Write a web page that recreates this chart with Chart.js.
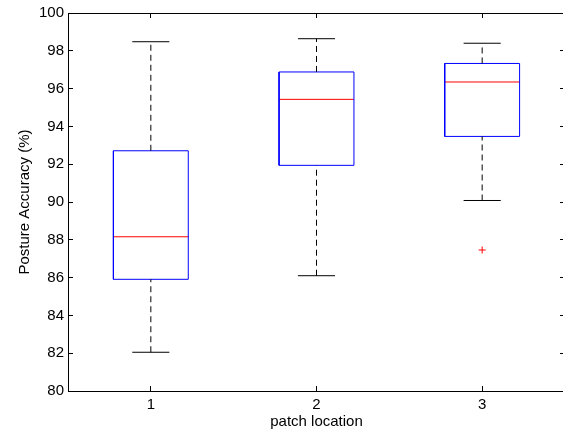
<!DOCTYPE html>
<html>
<head>
<meta charset="utf-8">
<script src="https://cdn.jsdelivr.net/npm/chart.js@4"></script>
<style>
  html, body { margin: 0; padding: 0; background: #fff; overflow: hidden; }
  #wrap { width: 570px; height: 431px; }
</style>
</head>
<body>
<div id="wrap"><canvas id="chart" width="570" height="431"></canvas></div>
<script>
// box plot data
const categories = [1, 2, 3];
const tickLabels = ['1', '2', '3'];
const upperWhisker = [98.48, 98.64, 98.40];
const q3 = [92.71, 96.88, 97.33];
const median = [88.16, 95.43, 96.35];
const q1 = [85.91, 91.94, 93.47];
const lowerWhisker = [82.05, 86.10, 90.08];
const outlierCategory = [3];
const outlierValue = [87.46];
const yTicks = [80, 82, 84, 86, 88, 90, 92, 94, 96, 98, 100];

const BOX_HALF = 0.226;
const CAP_HALF = 0.112;
const FONT = { family: 'Liberation Sans, Arial, Helvetica, sans-serif', size: 15 };

// build line segments, separated by null points so they don't join
let boxPts = [], medPts = [], whiskPts = [], capPts = [];
categories.forEach(function(c, i) {
    boxPts.push({x: c - BOX_HALF, y: q1[i]}, {x: c + BOX_HALF, y: q1[i]},
                {x: c + BOX_HALF, y: q3[i]}, {x: c - BOX_HALF, y: q3[i]},
                {x: c - BOX_HALF, y: q1[i]}, {x: c, y: null});
    medPts.push({x: c - BOX_HALF, y: median[i]}, {x: c + BOX_HALF, y: median[i]}, {x: c, y: null});
    whiskPts.push({x: c, y: q3[i]}, {x: c, y: upperWhisker[i]}, {x: c, y: null},
                  {x: c, y: lowerWhisker[i]}, {x: c, y: q1[i]}, {x: c, y: null});
    capPts.push({x: c - CAP_HALF, y: upperWhisker[i]}, {x: c + CAP_HALF, y: upperWhisker[i]}, {x: c, y: null},
                {x: c - CAP_HALF, y: lowerWhisker[i]}, {x: c + CAP_HALF, y: lowerWhisker[i]}, {x: c, y: null});
});
let outPts = outlierCategory.map((c, i) => ({x: c, y: outlierValue[i]}));

function seg(data, color, dash) {
    return {
        type: 'scatter', data: data, showLine: true, spanGaps: false,
        borderColor: color, borderWidth: 1, borderDash: dash || [],
        pointRadius: 0, pointHoverRadius: 0, fill: false
    };
}

const setTicks = vals => scale => { scale.ticks = vals.map(v => ({value: v})); };

new Chart(document.getElementById('chart').getContext('2d'), {
    data: {
        datasets: [
            seg(whiskPts, '#000', [6, 4]),
            seg(capPts, '#000'),
            seg(boxPts, '#0000ff'),
            seg(medPts, '#ff0000'),
            {
                type: 'scatter', data: outPts, showLine: false,
                pointStyle: 'cross', pointRadius: 3.5, borderColor: '#ff0000',
                borderWidth: 1, backgroundColor: '#ff0000'
            }
        ]
    },
    options: {
        responsive: false,
        animation: false,
        layout: { padding: 0 },
        plugins: { legend: { display: false }, tooltip: { enabled: false } },
        scales: {
            x: {
                type: 'linear', position: 'bottom', min: 0.5, max: 3.5,
                afterBuildTicks: setTicks(categories),
                afterFit: s => { s.height = 40; s.paddingLeft = 0; s.paddingRight = 0; },
                grid: { drawOnChartArea: false, tickLength: -5, color: '#000' },
                border: { color: '#000', width: 1 },
                ticks: { callback: (v) => tickLabels[categories.indexOf(v)], color: '#000', font: FONT, padding: 10, maxRotation: 0 },
                title: { display: true, text: 'patch location', color: '#000', font: FONT, padding: { top: 2, bottom: 0 } }
            },
            x2: {
                type: 'linear', position: 'top', min: 0.5, max: 3.5,
                afterBuildTicks: setTicks(categories),
                afterFit: s => { s.height = 13; },
                grid: { drawOnChartArea: false, tickLength: -5, color: '#000' },
                border: { color: '#000', width: 1 },
                ticks: { display: false }
            },
            y: {
                type: 'linear', position: 'left', min: 80, max: 100,
                afterBuildTicks: setTicks(yTicks),
                afterFit: s => { s.width = 68; s.paddingTop = 4; s.paddingBottom = 4; },
                grid: { drawOnChartArea: false, tickLength: -5, color: '#000' },
                border: { color: '#000', width: 1 },
                ticks: { color: '#000', font: FONT, padding: 9 },
                title: { display: true, text: 'Posture Accuracy (%)', color: '#000', font: FONT, padding: { top: 16, bottom: 0 } }
            },
            y2: {
                type: 'linear', position: 'right', min: 80, max: 100,
                afterBuildTicks: setTicks(yTicks),
                afterFit: s => { s.width = 5; s.paddingTop = 0; s.paddingBottom = 0; },
                grid: { drawOnChartArea: false, tickLength: -5, color: '#000' },
                border: { color: '#000', width: 1 },
                ticks: { display: false }
            }
        }
    }
});
</script>
</body>
</html>
